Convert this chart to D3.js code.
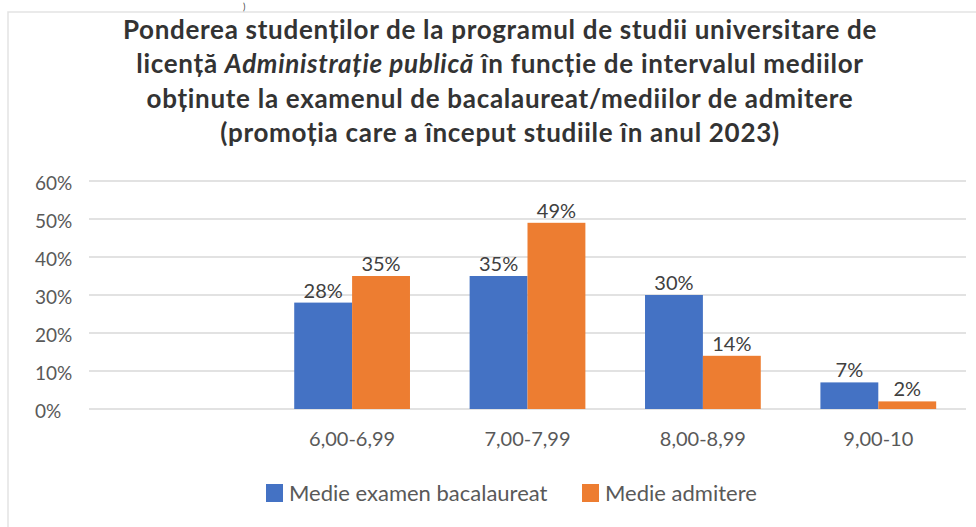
<!DOCTYPE html>
<html>
<head>
<meta charset="utf-8">
<script src="https://cdn.jsdelivr.net/npm/d3@7"></script>
<style>
  body { margin: 0; background: #fff; }
  svg { font-family: Lato, "Noto Sans", sans-serif; }
</style>
</head>
<body>
<svg id="chart" width="976" height="527"></svg>
<script>
// Data
const categories = ["", "6,00-6,99", "7,00-7,99", "8,00-8,99", "9,00-10"];
const seriesNames = ["Medie examen bacalaureat", "Medie admitere"];
const bacValues = [null, 28, 35, 30, 7];
const admValues = [null, 35, 49, 14, 2];
const yTicks = [0, 10, 20, 30, 40, 50, 60];
const colors = ["#4472C4", "#ED7D31"];

const svg = d3.select("#chart");

// Frame of the chart (the reference is a cropped screenshot)
svg.append("rect")
  .attr("x", 8).attr("y", 12)
  .attr("width", 990).attr("height", 530)
  .attr("fill", "#fff")
  .attr("stroke", "#e3e3e3")
  .attr("stroke-width", 1.5);

// leftover of the text above the cropped chart
svg.append("text")
  .attr("x", 243).attr("y", 10)
  .attr("fill", "#404040")
  .style("font-size", "9px")
  .text(")");

// Title
const titleLines = [
  [{ t: "Ponderea studenților de la programul de studii universitare de" }],
  [{ t: "licență " }, { t: "Administrație publică", i: true }, { t: " în funcție de intervalul mediilor" }],
  [{ t: "obținute la examenul de bacalaureat/mediilor de admitere" }],
  [{ t: "(promoția care a început studiile în anul 2023)" }]
];
const title = svg.append("text")
  .attr("x", 500)
  .attr("text-anchor", "middle")
  .attr("fill", "#333")
  .style("font-size", "26px")
  .style("letter-spacing", "0.7px")
  .style("font-weight", "bold");
titleLines.forEach((line, i) => {
  line.forEach((part, j) => {
    const ts = title.append("tspan").text(part.t);
    if (j === 0) ts.attr("x", 500).attr("y", 39 + i * 34.3);
    if (part.i) ts.style("font-style", "italic");
  });
});

// Plot area
const margin = { top: 181, left: 89, right: 966, bottom: 409 };

const x0 = d3.scaleBand()
  .domain(categories)
  .range([margin.left, margin.right])
  .paddingInner(0.34)
  .paddingOuter(0.17);

const x1 = d3.scaleBand()
  .domain(seriesNames)
  .range([0, x0.bandwidth()]);

const y = d3.scaleLinear()
  .domain([0, 60])
  .range([margin.bottom, margin.top]);

// Gridlines
svg.append("g")
  .selectAll("line")
  .data(yTicks)
  .join("line")
  .attr("x1", margin.left)
  .attr("x2", margin.right)
  .attr("y1", d => y(d))
  .attr("y2", d => y(d))
  .attr("stroke", "#d9d9d9")
  .attr("stroke-width", 1.5);

// Y axis labels (left aligned like the reference)
svg.append("g")
  .selectAll("text")
  .data(yTicks)
  .join("text")
  .attr("x", 35)
  .attr("y", d => y(d))
  .attr("dy", "0.45em")
  .attr("fill", "#595959")
  .style("font-size", "19px")
  .text(d => d + "%");

// X axis labels
const xAxis = svg.append("g")
  .attr("transform", `translate(0,${margin.bottom})`)
  .call(d3.axisBottom(x0).tickSize(0).tickPadding(23));
xAxis.select(".domain").remove();
xAxis.selectAll("text")
  .attr("fill", "#595959")
  .style("font-size", "20px")
  .style("font-family", "Lato, sans-serif");

// Bars
const rows = categories.map((c, i) => ({ cat: c, vals: [bacValues[i], admValues[i]] }));

const groups = svg.append("g")
  .selectAll("g")
  .data(rows)
  .join("g")
  .attr("transform", d => `translate(${x0(d.cat)},0)`);

const cells = groups.selectAll("g")
  .data(d => d.vals.map((v, k) => ({ key: seriesNames[k], v, k })).filter(e => e.v !== null))
  .join("g");

cells.append("rect")
  .attr("x", d => x1(d.key))
  .attr("width", x1.bandwidth())
  .attr("y", d => y(d.v))
  .attr("height", d => y(0) - y(d.v))
  .attr("fill", d => colors[d.k]);

cells.append("text")
  .attr("x", d => x1(d.key) + x1.bandwidth() / 2)
  .attr("y", d => y(d.v) - 5)
  .attr("text-anchor", "middle")
  .attr("fill", "#404040")
  .style("font-size", "20px")
  .text(d => d.v + "%");

// Legend
const legend = svg.append("g").attr("transform", "translate(266,484)");
const legendOffsets = [0, 316];
seriesNames.forEach((name, k) => {
  const g = legend.append("g").attr("transform", `translate(${legendOffsets[k]},0)`);
  g.append("rect").attr("width", 17).attr("height", 18).attr("fill", colors[k]);
  g.append("text")
    .attr("x", 23).attr("y", 17)
    .attr("fill", "#595959")
    .style("font-size", "22px")
    .text(name);
});
</script>
</body>
</html>
